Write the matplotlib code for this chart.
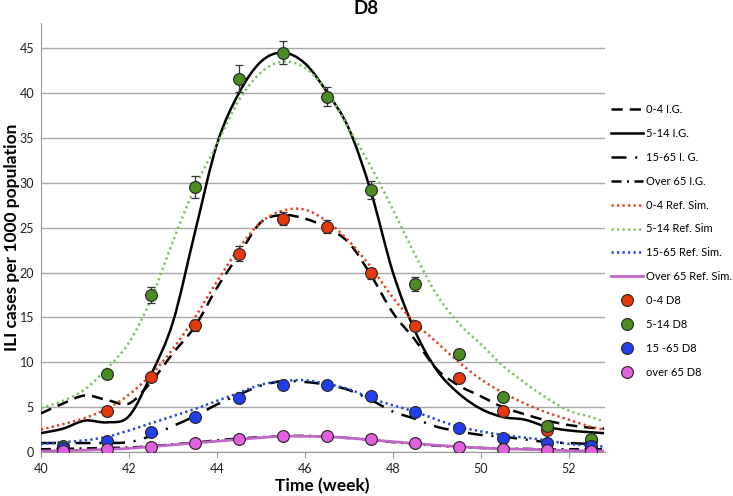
import numpy as np
import matplotlib
matplotlib.use("Agg")
import matplotlib.pyplot as plt
from matplotlib.path import Path
from matplotlib.patches import PathPatch
from matplotlib.lines import Line2D

# ---------------- data ----------------
line_weeks = [40, 40.5, 41, 41.5, 42, 42.5, 43, 43.5, 44, 44.5, 45, 45.5, 46, 46.5,
              47, 47.5, 48, 48.5, 49, 49.5, 50, 50.5, 51, 51.5, 52, 52.5, 52.8]

ig_0_4 = [4.3, 5.4, 6.3, 5.8, 5.4, 7.8, 11.0, 14.0, 18.3, 22.0, 25.6, 26.4, 26.0, 25.0,
          23.3, 19.7, 15.5, 12.5, 9.2, 7.4, 6.2, 5.0, 4.2, 3.5, 3.0, 2.7, 2.6]
ig_5_14 = [2.1, 2.6, 3.5, 3.3, 4.0, 8.6, 14.5, 24.5, 34.3, 40.0, 43.5, 44.5, 43.3, 40.1,
           36.0, 29.0, 20.0, 13.5, 9.1, 6.5, 4.8, 3.9, 3.6, 2.8, 2.4, 2.2, 2.1]
ig_15_65 = [1.0, 1.0, 1.0, 1.0, 1.1, 1.8, 2.9, 4.0, 5.3, 6.4, 7.4, 7.9, 7.8, 7.5,
            6.9, 5.8, 4.5, 3.7, 2.8, 2.3, 1.9, 1.7, 1.4, 1.1, 1.0, 0.9, 0.9]
ig_over65 = [0.3, 0.35, 0.4, 0.45, 0.5, 0.65, 0.85, 1.05, 1.3, 1.5, 1.65, 1.75, 1.8, 1.7,
             1.55, 1.35, 1.1, 0.9, 0.7, 0.55, 0.45, 0.4, 0.35, 0.3, 0.3, 0.3, 0.3]
ref_0_4 = [2.5, 3.1, 3.8, 4.8, 6.4, 8.6, 11.5, 15.0, 19.0, 22.7, 25.6, 26.9, 27.0, 25.7,
           23.5, 20.6, 17.2, 14.4, 12.2, 10.0, 8.1, 6.6, 5.4, 4.4, 3.6, 2.8, 2.5]
ref_5_14 = [4.9, 5.7, 7.0, 9.3, 12.2, 17.0, 23.5, 29.5, 34.3, 39.2, 42.3, 43.5, 42.8, 40.2,
            36.0, 31.8, 27.0, 22.0, 17.5, 14.3, 12.0, 9.6, 7.7, 6.0, 4.6, 3.9, 3.4]
ref_15_65 = [0.9, 1.1, 1.3, 1.7, 2.4, 3.2, 4.0, 4.8, 5.7, 6.6, 7.5, 7.9, 8.0, 7.6,
             7.0, 6.0, 5.2, 4.5, 3.6, 2.8, 2.3, 1.9, 1.6, 1.3, 0.9, 0.7, 0.6]
ref_over65 = [0.1, 0.15, 0.2, 0.3, 0.4, 0.6, 0.8, 1.0, 1.2, 1.4, 1.6, 1.75, 1.75, 1.7,
              1.55, 1.35, 1.15, 0.95, 0.75, 0.6, 0.45, 0.35, 0.3, 0.25, 0.15, 0.12, 0.1]

point_weeks = [40.5, 41.5, 42.5, 43.5, 44.5, 45.5, 46.5, 47.5, 48.5, 49.5, 50.5, 51.5, 52.5]
d8_0_4 = [0.5, 4.6, 8.4, 14.1, 22.1, 26.0, 25.1, 19.9, 14.0, 8.2, 4.6, 2.5, 1.2]
d8_0_4_err = [0.2, 0.3, 0.4, 0.6, 0.8, 0.7, 0.7, 0.6, 0.4, 0.3, 0.2, 0.2, 0.1]
d8_5_14 = [0.7, 8.7, 17.5, 29.5, 41.6, 44.5, 39.6, 29.2, 18.7, 10.9, 6.1, 2.9, 1.4]
d8_5_14_err = [0.3, 0.4, 0.9, 1.2, 1.5, 1.3, 1.1, 1.0, 0.8, 0.5, 0.3, 0.2, 0.2]
d8_15_65 = [0.5, 1.2, 2.2, 3.9, 6.0, 7.5, 7.5, 6.2, 4.5, 2.7, 1.6, 1.0, 0.7]
d8_over65 = [0.1, 0.3, 0.6, 1.0, 1.5, 1.75, 1.75, 1.45, 1.05, 0.6, 0.3, 0.2, 0.1]

y_ticks = [0, 5, 10, 15, 20, 25, 30, 35, 40, 45]
x_ticks = [40, 42, 44, 46, 48, 50, 52]

# ---------------- style ----------------
plt.rcParams['font.family'] = ['Lato', 'DejaVu Sans']

W, H = 733, 496
fig = plt.figure(figsize=(W / 100, H / 100), dpi=100)
ax = fig.add_axes([41/W, 1-452/H, (605-41)/W, (452-23)/H])


def smooth_path(xs, ys, **kw):
    """Excel-like smoothed line: Catmull-Rom segments drawn as cubic Beziers."""
    P = np.column_stack([xs, ys]).astype(float)
    n = len(P)
    verts = [P[0]]
    codes = [Path.MOVETO]
    for i in range(n - 1):
        p0 = P[i - 1] if i > 0 else P[i]
        p1 = P[i]
        p2 = P[i + 1]
        p3 = P[i + 2] if i + 2 < n else P[i + 1]
        c1 = p1 + (p2 - p0) / 6.0
        c2 = p2 - (p3 - p1) / 6.0
        verts += [c1, c2, p2]
        codes += [Path.CURVE4] * 3
    patch = PathPatch(Path(verts, codes), fill=False, **kw)
    ax.add_patch(patch)
    return patch


styles = [
    ("0-4 I.G.", ig_0_4, dict(color='black', lw=1.8, ls=(0, (4.5, 2.8)))),
    ("5-14 I.G.", ig_5_14, dict(color='black', lw=1.8, ls='-')),
    ("15-65 I. G.", ig_15_65, dict(color='black', lw=1.8, ls=(0, (6, 3.5, 0.8, 3.5)))),
    ("Over 65 I.G.", ig_over65, dict(color='black', lw=1.8, ls=(0, (4, 2.2, 0.8, 2.2)))),
    ("0-4 Ref. Sim.", ref_0_4, dict(color='#E0401E', lw=1.8, ls=(0, (0.9, 1.3)))),
    ("5-14 Ref. Sim", ref_5_14, dict(color='#7CC462', lw=1.8, ls=(0, (0.9, 1.3)))),
    ("15-65 Ref. Sim.", ref_15_65, dict(color='#2445D8', lw=1.8, ls=(0, (0.9, 1.3)))),
    ("Over 65 Ref. Sim.", ref_over65, dict(color='#C466C8', lw=2.0, ls='-')),
]

handles = []
for label, ys, st in styles:
    smooth_path(line_weeks, ys, edgecolor=st['color'], linewidth=st['lw'],
                linestyle=st['ls'], capstyle='butt', zorder=3)
    handles.append(Line2D([], [], color=st['color'], lw=st['lw'], ls=st['ls']))

marker_sets = [
    ("0-4 D8", d8_0_4, d8_0_4_err, '#E8380E'),
    ("5-14 D8", d8_5_14, d8_5_14_err, '#4A8C22'),
    ("15 -65 D8", d8_15_65, None, '#2040F0'),
    ("over 65 D8", d8_over65, None, '#E060DE'),
]
for label, ys, err, col in marker_sets:
    if err is not None:
        ax.errorbar(point_weeks, ys, yerr=err, fmt='none', ecolor='#333333',
                    elinewidth=0.9, capsize=3, capthick=0.9, zorder=4)
    ax.plot(point_weeks, ys, ls='none', marker='o', ms=8.5, mfc=col,
            mec='#222222', mew=0.8, zorder=5)
    handles.append(Line2D([], [], ls='none', marker='o', ms=8.5, mfc=col,
                          mec='#222222', mew=0.8))

labels = [s[0] for s in styles] + [m[0] for m in marker_sets]

ax.set_xlim(40, 52.82)
ax.set_ylim(0, 47.8)
ax.set_yticks(y_ticks)
ax.set_xticks(x_ticks)
ax.yaxis.grid(True, color='#A8A8A8', lw=1.0)
ax.set_axisbelow(True)
for s in ['top', 'right']:
    ax.spines[s].set_visible(False)
ax.spines['left'].set_color('#999999')
ax.spines['bottom'].set_color('#999999')
ax.tick_params(axis='y', length=0, pad=5, labelsize=9, labelcolor='#222222')
ax.tick_params(axis='x', length=4, color='#999999', pad=4, labelsize=9,
               labelcolor='#222222', direction='out')

fig.text(322/W, 1-486/H, "Time (week)", ha='center', va='center',
         fontsize=12.5, fontweight='bold')
fig.text(12/W, 1-237/H, "ILI cases per 1000 population", ha='center', va='center',
         rotation=90, fontsize=12.5, fontweight='bold')
fig.text(366/W, 1-9/H, "D8", ha='center', va='center', fontsize=13.5,
         fontweight='bold')

leg = fig.legend(handles, labels, loc='upper left',
                 bbox_to_anchor=(611/W, 1-104/H), frameon=False,
                 fontsize=8, handlelength=2.9, handletextpad=0.25,
                 labelspacing=1.16, borderaxespad=0, borderpad=0)

fig.savefig("out.png", dpi=100)
